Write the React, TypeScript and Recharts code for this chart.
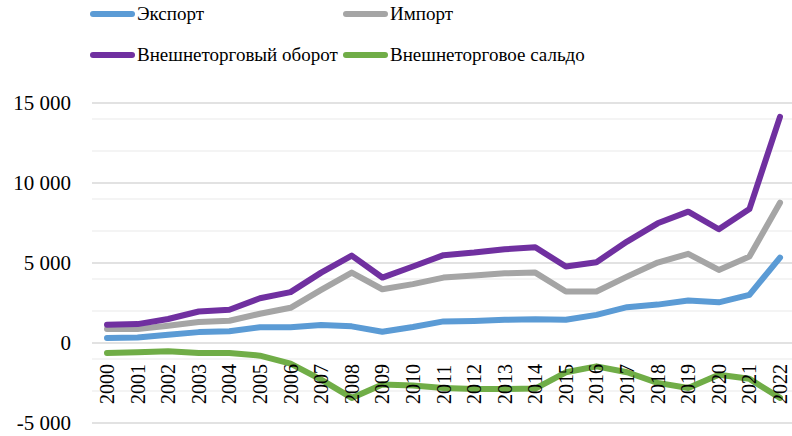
import { LineChart, Line, XAxis, YAxis, CartesianGrid } from 'recharts';

const years = [
  '2000', '2001', '2002', '2003', '2004', '2005', '2006', '2007', '2008', '2009', '2010', '2011',
  '2012', '2013', '2014', '2015', '2016', '2017', '2018', '2019', '2020', '2021', '2022',
];

const exportValues = [
  310, 350, 520, 680, 740, 980, 980, 1120, 1040, 700, 1000, 1350,
  1380, 1450, 1490, 1450, 1760, 2240, 2400, 2660, 2540, 3010, 5340,
];
const importValues = [
  870, 870, 1080, 1310, 1390, 1830, 2200, 3320, 4400, 3360, 3680, 4090,
  4220, 4360, 4400, 3220, 3220, 4150, 5030, 5570, 4570, 5400, 8770,
];
const turnoverValues = [
  1140, 1180, 1500, 1970, 2080, 2800, 3180, 4400, 5460, 4090, 4780, 5490,
  5650, 5860, 5980, 4780, 5050, 6340, 7480, 8210, 7110, 8370, 14130,
];
const saldoValues = [
  -620, -580, -520, -620, -620, -790, -1290, -2290, -3430, -2600, -2660, -2810,
  -2870, -2870, -2850, -1830, -1460, -1830, -2490, -2810, -1980, -2240, -3430,
];

const majorTicks = [-5000, 0, 5000, 10000, 15000];
const minorTicks = [
  -4000, -3000, -2000, -1000, 1000, 2000, 3000, 4000,
  6000, 7000, 8000, 9000, 11000, 12000, 13000, 14000,
];

const series = [
  { key: 'export', name: 'Экспорт', color: '#5B9BD5', values: exportValues },
  { key: 'import', name: 'Импорт', color: '#A5A5A5', values: importValues },
  { key: 'turnover', name: 'Внешнеторговый оборот', color: '#7030A0', values: turnoverValues },
  { key: 'saldo', name: 'Внешнеторговое сальдо', color: '#70AD47', values: saldoValues },
];

const data = years.map((year, i) => {
  const row: Record<string, string | number> = { year };
  series.forEach((s) => { row[s.key] = s.values[i]; });
  return row;
});

// no serif face in the sandbox, so this usually lands on Liberation Sans
const FONT = "'Liberation Serif', 'DejaVu Serif', 'Liberation Sans', sans-serif";

function formatValue(v: number) {
  const sign = v < 0 ? '-' : '';
  return sign + Math.abs(v).toString().replace(/\B(?=(\d{3})+(?!\d))/g, ' ');
}

function YearTick({ x, y, payload }: any) {
  const ty = y - 21;
  return (
    <text
      x={x}
      y={ty}
      transform={`rotate(-90, ${x}, ${ty})`}
      textAnchor="start"
      dominantBaseline="central"
      fontFamily={FONT}
      fontSize={20}
      fill="#000"
    >
      {payload.value}
    </text>
  );
}

function ChartLegend() {
  const cols = [90, 343];
  const rows = [14, 55];
  return (
    <>
      {series.map((s, i) => {
        const left = cols[i % 2];
        const top = rows[Math.floor(i / 2)];
        return (
          <div
            key={s.key}
            style={{ position: 'absolute', left, top: top - 14, height: 28, display: 'flex', alignItems: 'center' }}
          >
            <span style={{ width: 45, height: 6, borderRadius: 3, background: s.color, display: 'inline-block' }} />
            <span style={{ fontFamily: FONT, fontSize: 19, color: '#000', marginLeft: 2, whiteSpace: 'nowrap' }}>
              {s.name}
            </span>
          </div>
        );
      })}
    </>
  );
}

export default function App() {
  return (
    <div style={{ position: 'absolute', left: 0, top: 0, width: 792, height: 436, overflow: 'hidden', background: '#fff', fontFamily: FONT }}>
      <LineChart width={800} height={436} data={data} margin={{ top: 103, right: 5, bottom: 12, left: 0 }}>
        <CartesianGrid vertical={false} horizontalValues={minorTicks} stroke="#f0f0f0" strokeWidth={1.5} />
        <CartesianGrid vertical={false} horizontalValues={majorTicks} stroke="#d9d9d9" strokeWidth={1.5} />
        <XAxis
          dataKey="year"
          interval={0}
          height={1}
          axisLine={false}
          tickLine={false}
          tickSize={0}
          padding={{ left: 15, right: 15 }}
          tick={<YearTick />}
        />
        <YAxis
          width={92}
          domain={[-5000, 15000]}
          ticks={majorTicks}
          axisLine={false}
          tickLine={false}
          tickSize={0}
          tickMargin={21}
          tickFormatter={formatValue}
          tick={{ fontSize: 21, fill: '#000', fontFamily: FONT }}
        />
        {series.map((s) => (
          <Line
            key={s.key}
            type="linear"
            dataKey={s.key}
            name={s.name}
            stroke={s.color}
            strokeWidth={6}
            strokeLinecap="round"
            strokeLinejoin="round"
            dot={false}
            activeDot={false}
            isAnimationActive={false}
          />
        ))}
      </LineChart>
      <ChartLegend />
    </div>
  );
}
